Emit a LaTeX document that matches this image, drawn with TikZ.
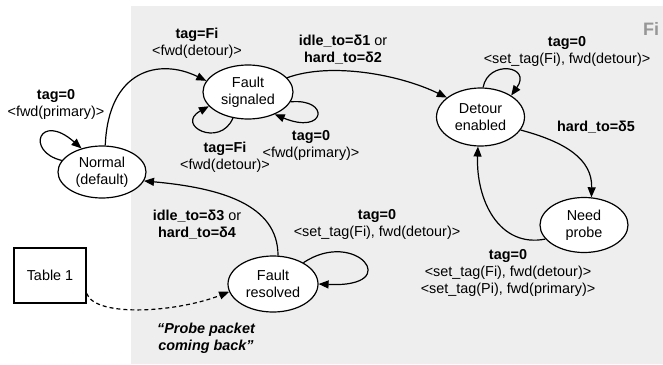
\documentclass[tikz,border=0pt]{standalone}
\usepackage{fontspec}
\setmainfont{Liberation Sans}
\usetikzlibrary{arrows.meta,shapes.geometric}
\definecolor{bggray}{RGB}{238,238,238}
\definecolor{figgray}{RGB}{150,150,150}
\begin{document}
\begin{tikzpicture}[x=1pt,y=-1pt,
  every node/.style={font=\fontsize{14.4}{17}\selectfont},
  state/.style={draw, ellipse, fill=white, line width=1.2pt, inner sep=0pt, align=center},
  tablebox/.style={draw, rectangle, fill=white, line width=1.2pt, inner sep=0pt, minimum width=72pt, minimum height=55pt},
  arr/.style={line width=1.2pt, -{Triangle[length=10pt,width=8pt]}},
  dasharr/.style={arr, dash pattern=on 4pt off 3pt},
  lbl/.style={align=center, anchor=base, inner sep=0pt}
]
\useasboundingbox (0,0) rectangle (663,364);
\fill[bggray] (131,6) rectangle (663,364);
\node[anchor=base west, text=figgray, font=\fontsize{18}{20}\selectfont\bfseries, inner sep=0pt] (fig) at (643,35) {Fi};

% states
\node[state, minimum width=88pt, minimum height=52pt] (N) at (102,172) {Normal\\(default)};
\node[state, minimum width=90pt, minimum height=54pt] (FS) at (248,92) {Fault\\signaled};
\node[state, minimum width=88pt, minimum height=58pt] (DE) at (480.5,117) {Detour\\enabled};
\node[state, minimum width=88pt, minimum height=55pt] (NP) at (584,225) {Need\\probe};
\node[state, minimum width=90pt, minimum height=56pt] (FR) at (273,284) {Fault\\resolved};
\node[tablebox] (T) at (50,275.5) {Table 1};

% connectors
\draw[arr] (N.164) .. controls +(-37,-9) and +(-42,-37) .. (N.131);
\draw[arr] (N.83) .. controls +(3,-76) and +(-47,-23) .. (FS.165);
\draw[arr] (FS.20) .. controls +(43.5,-16) and +(-47,-23) .. (DE.150);
\draw[arr] (FS.240) .. controls +(-13,30.5) and +(-34.5,19) .. (FS.200);
\draw[arr] (FS.-13) .. controls +(40,-3.7) and +(51,21) .. (FS.-40);
\draw[arr] (DE.85) .. controls +(5,-28) and +(21.4,-30) .. (DE.35);
\draw[arr] (DE.-18) .. controls +(45,12) and +(1,-38) .. (NP.75);
\draw[arr] (NP.200) .. controls +(-46,9) and +(-2,54) .. (DE.265);
\draw[arr] (FR.35) .. controls +(52,-35) and +(87,4) .. (FR.0);
\draw[arr] (FR.80) .. controls +(0,-51) and +(77,7) .. (N.-12);
\draw[dasharr] (T.-26) .. controls +(9,25) and +(-50,20) .. (FR.190);

% labels (anchor = baseline of the last line)
\node[lbl] (l1) at (56,116.5) {\textbf{tag=0}\\<fwd(primary)>};
\node[lbl] (l2) at (197,55) {\textbf{tag=Fi}\\<fwd(detour)>};
\node[lbl] (l3) at (343,62) {\textbf{idle\_to=δ1} or\\\textbf{hard\_to=δ2}};
\node[lbl] (l4) at (225,169) {\textbf{tag=Fi}\\<fwd(detour)>};
\node[lbl] (l5) at (311,157) {\textbf{tag=0}\\<fwd(primary)>};
\node[lbl] (l6) at (567,63) {\textbf{tag=0}\\<set\_tag(Fi), fwd(detour)>};
\node[lbl] (l7) at (596,131) {\textbf{hard\_to=δ5}};
\node[lbl] (l8) at (508,293) {\textbf{tag=0}\\<set\_tag(Fi), fwd(detour)>\\<set\_tag(Pi), fwd(primary)>};
\node[lbl] (l9) at (377,236) {\textbf{tag=0}\\<set\_tag(Fi), fwd(detour)>};
\node[lbl] (l10) at (197,237) {\textbf{idle\_to=δ3} or\\\textbf{hard\_to=δ4}};
\node[lbl, font=\fontsize{14.4}{17}\selectfont\bfseries\itshape] (l11) at (206,350) {“Probe packet\\coming back”};
\end{tikzpicture}
\end{document}
